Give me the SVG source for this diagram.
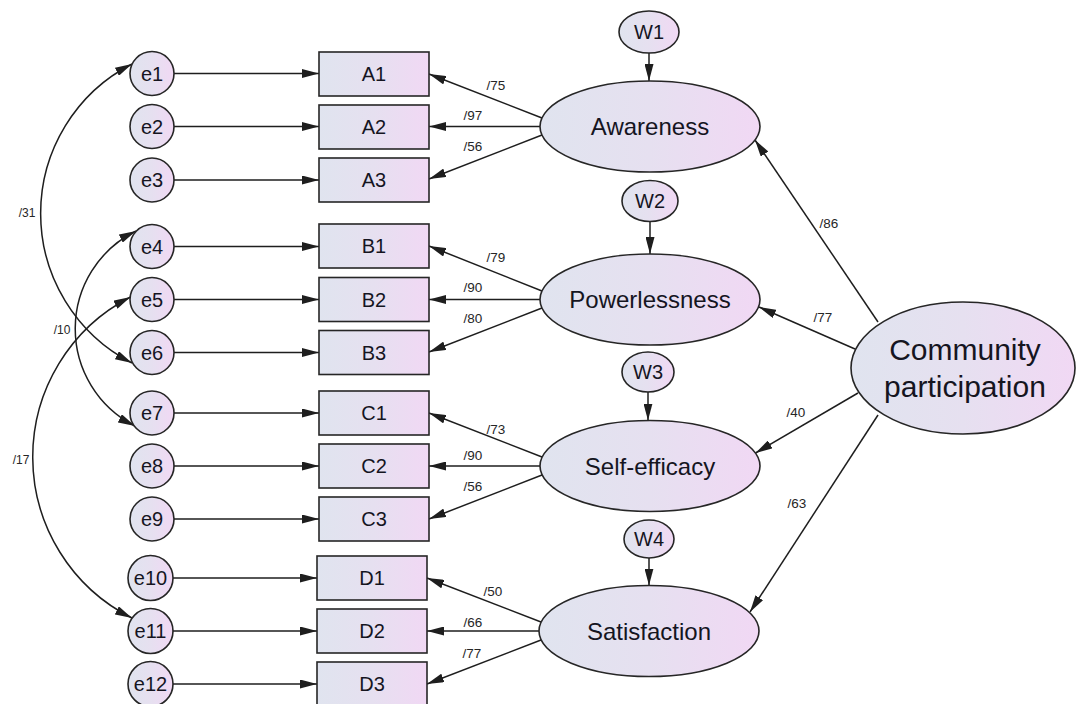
<svg xmlns="http://www.w3.org/2000/svg" width="1076" height="704" viewBox="0 0 1076 704">
<style>
.n{stroke:#262626;stroke-width:1.6}
.t{font-family:"Liberation Sans",Arial,sans-serif;fill:#15151f;text-anchor:middle}
.s20{font-size:20px}
.s24{font-size:24px}
.s30{font-size:30px}
.lb{font-family:"Liberation Sans",Arial,sans-serif;fill:#262626;text-anchor:middle;font-size:13.5px}
.cv{font-size:12px}
.c{fill:none;stroke:#1e1e1e;stroke-width:1.5}
.a{marker-end:url(#ah)}
.d{marker-start:url(#ah);marker-end:url(#ah)}
</style>
<defs>
<linearGradient id="g" x1="0" y1="0" x2="1" y2="0">
<stop offset="0" stop-color="#e0e4ef"/>
<stop offset="0.5" stop-color="#e6e0f0"/>
<stop offset="1" stop-color="#f1d8f4"/>
</linearGradient>
<marker id="ah" viewBox="0 0 17 9" refX="17" refY="4.5" markerWidth="17" markerHeight="9" markerUnits="userSpaceOnUse" orient="auto-start-reverse">
<path d="M0,0 L17,4.5 L0,9 z" fill="#1e1e1e"/>
</marker>
</defs>
<rect width="1076" height="704" fill="#ffffff"/>

<g id="connectors">
<path class="c a" d="M174,73.5 L319,73.5"/>
<path class="c a" d="M174,126.5 L319,126.5"/>
<path class="c a" d="M174,180 L319,180"/>
<path class="c a" d="M174,246.5 L319,246.5"/>
<path class="c a" d="M174,299.5 L319,299.5"/>
<path class="c a" d="M174,352.5 L319,352.5"/>
<path class="c a" d="M174,413 L319,413"/>
<path class="c a" d="M174,466 L319,466"/>
<path class="c a" d="M174,519 L319,519"/>
<path class="c a" d="M173,578 L317,578"/>
<path class="c a" d="M173,631 L317,631"/>
<path class="c a" d="M173,684 L317,684"/>

<path class="c a" d="M542,118 L429,74"/>
<path class="c a" d="M540,126.5 L429,126.5"/>
<path class="c a" d="M542,135 L429,179"/>
<path class="c a" d="M542,291 L429,246"/>
<path class="c a" d="M540,299.5 L429,299.5"/>
<path class="c a" d="M542,308 L429,352"/>
<path class="c a" d="M542,457 L429,413"/>
<path class="c a" d="M540,466 L429,466"/>
<path class="c a" d="M542,475 L429,519"/>
<path class="c a" d="M541,622 L427,578"/>
<path class="c a" d="M539,631 L427,631"/>
<path class="c a" d="M541,640 L427,684"/>

<path class="c a" d="M649,53 L649,81"/>
<path class="c a" d="M650,221.5 L650,254"/>
<path class="c a" d="M648,392 L648,420.5"/>
<path class="c a" d="M649,558 L649,585.5"/>

<path class="c a" d="M878,322 L755,140"/>
<path class="c a" d="M855,349 L759,307"/>
<path class="c a" d="M858,393 L755.5,453"/>
<path class="c a" d="M878,415 L750,612"/>

<path class="c d" d="M132,64 A168,168 0 0 0 132,363"/>
<path class="c d" d="M136,231 A109,109 0 0 0 135,426"/>
<path class="c d" d="M130.5,297 A180,180 0 0 0 132,618"/>

<text class="lb" x="496" y="90">/75</text>
<text class="lb" x="473" y="120">/97</text>
<text class="lb" x="473" y="151">/56</text>
<text class="lb" x="496" y="262">/79</text>
<text class="lb" x="473" y="292">/90</text>
<text class="lb" x="473" y="323">/80</text>
<text class="lb" x="496" y="434">/73</text>
<text class="lb" x="473" y="460">/90</text>
<text class="lb" x="473" y="491">/56</text>
<text class="lb" x="493" y="596">/50</text>
<text class="lb" x="473" y="627">/66</text>
<text class="lb" x="472" y="658">/77</text>
<text class="lb" x="829" y="228">/86</text>
<text class="lb" x="823" y="322">/77</text>
<text class="lb" x="796" y="417">/40</text>
<text class="lb" x="797" y="508">/63</text>
<text class="lb cv" x="27" y="217">/31</text>
<text class="lb cv" x="62" y="334">/10</text>
<text class="lb cv" x="21" y="464">/17</text>
</g>

<g id="e1"><circle class="n" cx="152" cy="73.5" r="22" fill="url(#g)"/><text class="t s20" x="152" y="80.5">e1</text></g>
<g id="e2"><circle class="n" cx="152" cy="126.5" r="22" fill="url(#g)"/><text class="t s20" x="152" y="133.5">e2</text></g>
<g id="e3"><circle class="n" cx="152" cy="180" r="22" fill="url(#g)"/><text class="t s20" x="152" y="187">e3</text></g>
<g id="e4"><circle class="n" cx="152" cy="246.5" r="22" fill="url(#g)"/><text class="t s20" x="152" y="253.5">e4</text></g>
<g id="e5"><circle class="n" cx="152" cy="299.5" r="22" fill="url(#g)"/><text class="t s20" x="152" y="306.5">e5</text></g>
<g id="e6"><circle class="n" cx="152" cy="352.5" r="22" fill="url(#g)"/><text class="t s20" x="152" y="359.5">e6</text></g>
<g id="e7"><circle class="n" cx="152" cy="413" r="22" fill="url(#g)"/><text class="t s20" x="152" y="420">e7</text></g>
<g id="e8"><circle class="n" cx="152" cy="466" r="22" fill="url(#g)"/><text class="t s20" x="152" y="473">e8</text></g>
<g id="e9"><circle class="n" cx="152" cy="519" r="22" fill="url(#g)"/><text class="t s20" x="152" y="526">e9</text></g>
<g id="e10"><circle class="n" cx="150.5" cy="578" r="22.5" fill="url(#g)"/><text class="t s20" x="150.5" y="585">e10</text></g>
<g id="e11"><circle class="n" cx="150.5" cy="631" r="22.5" fill="url(#g)"/><text class="t s20" x="150.5" y="638">e11</text></g>
<g id="e12"><circle class="n" cx="150.5" cy="684" r="22.5" fill="url(#g)"/><text class="t s20" x="150.5" y="691">e12</text></g>

<g id="A1"><rect class="n" x="319" y="52" width="110" height="44" fill="url(#g)"/><text class="t s20" x="374" y="81">A1</text></g>
<g id="A2"><rect class="n" x="319" y="105" width="110" height="44" fill="url(#g)"/><text class="t s20" x="374" y="134">A2</text></g>
<g id="A3"><rect class="n" x="319" y="158" width="110" height="44" fill="url(#g)"/><text class="t s20" x="374" y="187">A3</text></g>
<g id="B1"><rect class="n" x="319" y="224" width="110" height="44" fill="url(#g)"/><text class="t s20" x="374" y="253">B1</text></g>
<g id="B2"><rect class="n" x="319" y="277.5" width="110" height="44" fill="url(#g)"/><text class="t s20" x="374" y="306.5">B2</text></g>
<g id="B3"><rect class="n" x="319" y="330.5" width="110" height="44" fill="url(#g)"/><text class="t s20" x="374" y="359.5">B3</text></g>
<g id="C1"><rect class="n" x="319" y="391" width="110" height="44" fill="url(#g)"/><text class="t s20" x="374" y="420">C1</text></g>
<g id="C2"><rect class="n" x="319" y="444" width="110" height="44" fill="url(#g)"/><text class="t s20" x="374" y="473">C2</text></g>
<g id="C3"><rect class="n" x="319" y="497" width="110" height="44" fill="url(#g)"/><text class="t s20" x="374" y="526">C3</text></g>
<g id="D1"><rect class="n" x="317" y="556" width="110" height="44" fill="url(#g)"/><text class="t s20" x="372" y="585">D1</text></g>
<g id="D2"><rect class="n" x="317" y="609" width="110" height="44" fill="url(#g)"/><text class="t s20" x="372" y="638">D2</text></g>
<g id="D3"><rect class="n" x="317" y="662" width="110" height="44" fill="url(#g)"/><text class="t s20" x="372" y="691">D3</text></g>

<g id="W1"><ellipse class="n" cx="649" cy="32" rx="30" ry="21" fill="url(#g)"/><text class="t s20" x="649" y="39">W1</text></g>
<g id="W2"><ellipse class="n" cx="650" cy="201" rx="28" ry="20.5" fill="url(#g)"/><text class="t s20" x="650" y="208">W2</text></g>
<g id="W3"><ellipse class="n" cx="648" cy="372" rx="26" ry="20" fill="url(#g)"/><text class="t s20" x="648" y="379">W3</text></g>
<g id="W4"><ellipse class="n" cx="649" cy="539" rx="25" ry="19" fill="url(#g)"/><text class="t s20" x="649" y="546">W4</text></g>

<g id="Awareness"><ellipse class="n" cx="650" cy="126.5" rx="110" ry="45.5" fill="url(#g)"/><text class="t s24" x="650" y="135">Awareness</text></g>
<g id="Powerlessness"><ellipse class="n" cx="650" cy="299.5" rx="110" ry="45.5" fill="url(#g)"/><text class="t s24" x="650" y="308">Powerlessness</text></g>
<g id="Self-efficacy"><ellipse class="n" cx="650" cy="466" rx="110" ry="45.5" fill="url(#g)"/><text class="t s24" x="650" y="474.5">Self-efficacy</text></g>
<g id="Satisfaction"><ellipse class="n" cx="649" cy="631" rx="110" ry="45.5" fill="url(#g)"/><text class="t s24" x="649" y="639.5">Satisfaction</text></g>
<g id="Community"><ellipse class="n" cx="963" cy="368" rx="112" ry="66" fill="url(#g)"/><text class="t s30" x="965" y="360">Community</text><text class="t s30" x="965" y="397">participation</text></g>
</svg>
